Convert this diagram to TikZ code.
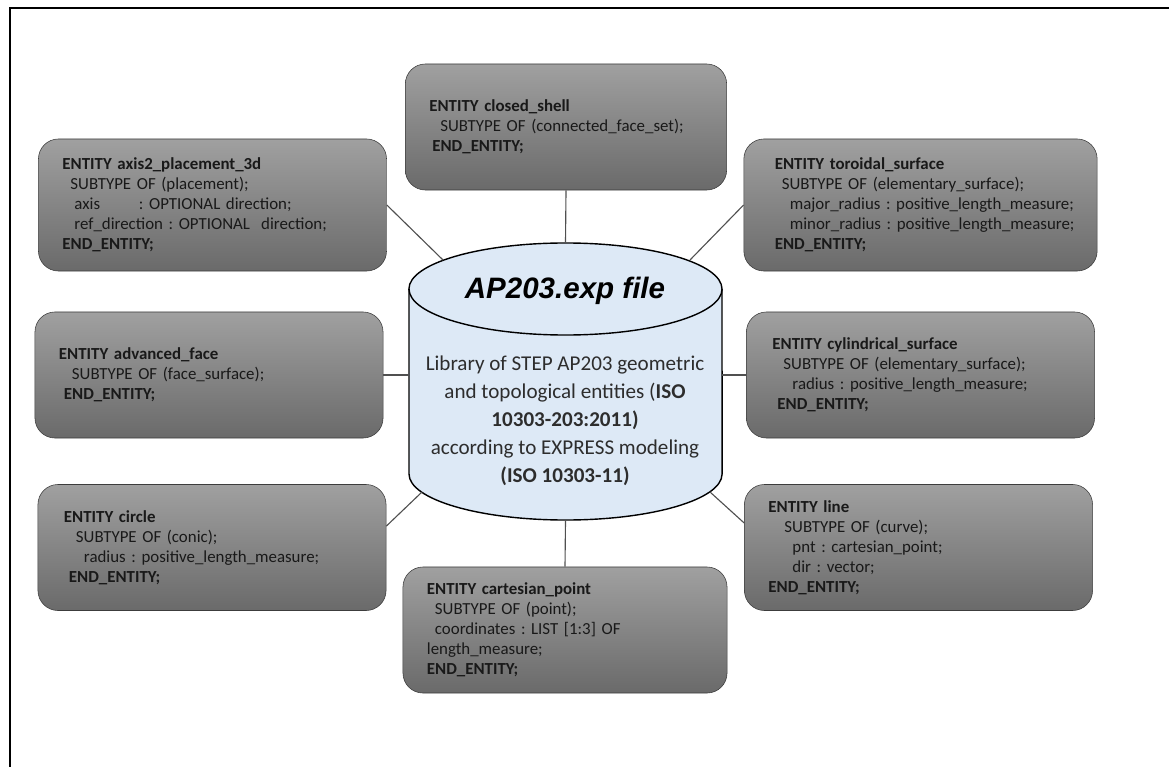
\documentclass[tikz,border=0pt]{standalone}
\usepackage{fontspec}
\setmainfont{Carlito}
\newfontfamily\arialfont{Liberation Sans}
\frenchspacing
\hyphenpenalty=10000
\definecolor{boxtop}{RGB}{160,160,160}
\definecolor{boxbot}{RGB}{106,106,106}
\definecolor{boxline}{RGB}{60,60,60}
\definecolor{boxtext}{RGB}{25,25,25}
\definecolor{dbfill}{RGB}{221,233,246}
\definecolor{dbtext}{RGB}{45,45,45}
\definecolor{wirecol}{RGB}{80,80,80}
\newlength\pxu
\setlength\pxu{0.025cm}
\newcommand\indpx[1]{\hspace*{#1\pxu}}
\tikzset{
  entity/.style={draw=boxline, rounded corners=0.5cm, top color=boxtop, bottom color=boxbot,
    text width=7.5cm, minimum height=3.15cm, inner xsep=0.6cm, align=left, text=boxtext,
    font=\fontsize{12}{14.2}\selectfont},
  wire/.style={draw=wirecol, line width=0.8pt},
  ends/.style={x radius=3.9125cm, y radius=1.15cm},
}
\begin{document}
\begin{tikzpicture}[x=0.025cm, y=-0.025cm]
  \useasboundingbox (0,0) rectangle (1169,767);
  \draw[line width=1.8pt] (1169,8) -- (10,8) -- (10,767);

  \draw[line width=1pt, fill=dbfill] (409,289) -- (409,474) arc[start angle=180, end angle=360, ends]
    -- (722,289) arc[start angle=0, end angle=180, ends] -- cycle;
  \draw[line width=1pt] (409,289) arc[start angle=180, end angle=360, ends];
  \node[minimum width=7.825cm, minimum height=6.925cm, inner sep=0pt] (lib) at (565.5,381.5) {};
  \coordinate (libnw) at (443,260);
  \coordinate (libne) at (690,260);
  \coordinate (libsw) at (422,492);
  \coordinate (libse) at (710,492);
  \node[font=\arialfont\bfseries\itshape\fontsize{21}{25}\selectfont] (title) at (565,291) {AP203.exp file};
  \node[align=center, text=dbtext, font=\fontsize{15}{19.9}\selectfont] (about) at (565,421)
    {Library of STEP AP203 geometric\\ and topological entities (\textbf{ISO}\\ \textbf{10303-203:2011)}\\
     according to EXPRESS modeling\\ \textbf{(ISO 10303-11)}};

  \node[entity, minimum height=3.3cm] (axis) at (212.5,205)
    {\textbf{ENTITY axis2\_placement\_3d}\\
     \indpx{8}SUBTYPE OF (placement);\\
     \indpx{12}axis\hspace{2.3em}: OPTIONAL direction;\\
     \indpx{12}ref\_direction : OPTIONAL\ \ direction;\\
     \textbf{END\_ENTITY;}};
  \node[entity, text width=6.83cm] (shell) at (566,127)
    {\textbf{ENTITY closed\_shell}\\
     \indpx{11}SUBTYPE OF (connected\_face\_set);\\
     \indpx{3}\textbf{END\_ENTITY;}};
  \node[entity, text width=8.03cm, inner xsep=0.4cm, minimum height=3.3cm] (toroidal) at (920.5,205)
    {\indpx{15}\textbf{ENTITY toroidal\_surface}\\
     \indpx{22}SUBTYPE OF (elementary\_surface);\\
     \indpx{30}major\_radius : positive\_length\_measure;\\
     \indpx{30}minor\_radius : positive\_length\_measure;\\
     \indpx{15}\textbf{END\_ENTITY;}};
  \node[entity] (adv) at (209,375)
    {\textbf{ENTITY advanced\_face}\\
     \indpx{13}SUBTYPE OF (face\_surface);\\
     \indpx{5}\textbf{END\_ENTITY;}};
  \node[entity] (cyl) at (920.5,375)
    {\indpx{2}\textbf{ENTITY cylindrical\_surface}\\
     \indpx{13}SUBTYPE OF (elementary\_surface);\\
     \indpx{22}radius : positive\_length\_measure;\\
     \indpx{7}\textbf{END\_ENTITY;}};
  \node[entity] (circle) at (212,547.5)
    {\indpx{2}\textbf{ENTITY circle}\\
     \indpx{14}SUBTYPE OF (conic);\\
     \indpx{22}radius : positive\_length\_measure;\\
     \indpx{7}\textbf{END\_ENTITY;}};
  \node[entity] (line) at (918.5,547.5)
    {\textbf{ENTITY line}\\
     \indpx{16}SUBTYPE OF (curve);\\
     \indpx{24}pnt : cartesian\_point;\\
     \indpx{24}dir : vector;\\
     \textbf{END\_ENTITY;}};
  \node[entity, text width=6.9cm] (cart) at (565,630)
    {\textbf{ENTITY cartesian\_point}\\
     \indpx{8}SUBTYPE OF (point);\\
     \indpx{8}coordinates : LIST [1:3] OF\\
     length\_measure;\\
     \textbf{END\_ENTITY;}};

  \draw[wire] (shell.south) -- (lib.north);
  \draw[wire] (axis.east) -- (libnw);
  \draw[wire] (toroidal.west) -- (libne);
  \draw[wire] (adv.east) -- (adv.east -| lib.west);
  \draw[wire] (cyl.west) -- (cyl.west -| lib.east);
  \draw[wire] (circle.7) -- (libsw);
  \draw[wire] (line.172) -- (libse);
  \draw[wire] (lib.south) -- (cart.north);
\end{tikzpicture}
\end{document}
